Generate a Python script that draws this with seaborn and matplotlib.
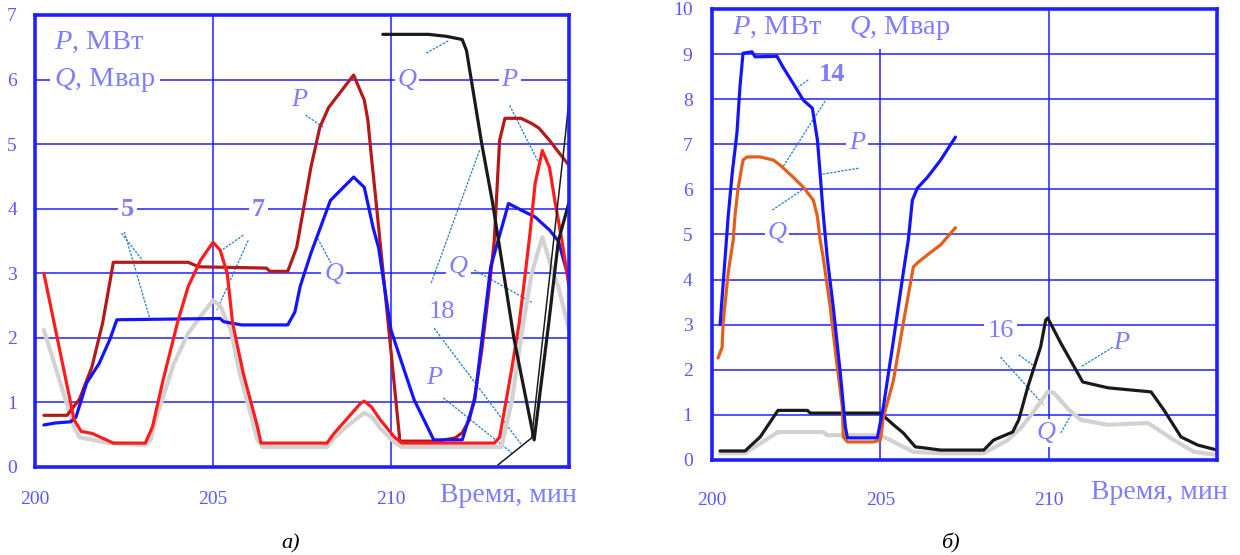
import matplotlib
matplotlib.use("Agg")
import matplotlib.pyplot as plt
import seaborn as sns

# ---- panel a) : time, min / P (MW), Q (Mvar) ----
a_p5_t = [200.25, 200.9, 201.25, 201.6, 201.9, 202.1, 202.2, 204.3, 204.6, 206.5, 206.6, 207.1,
          207.35, 207.75, 208.0, 208.25, 208.95, 209.25, 209.35, 209.45, 209.6, 210.25, 211.3,
          211.8, 212.0, 212.2, 212.35, 212.55, 212.75, 212.9, 213.05, 213.2, 213.65, 213.95,
          214.15, 214.45, 214.7, 215.0]
a_p5 = [0.8, 0.8, 1.05, 1.55, 2.23, 2.85, 3.17, 3.17, 3.1, 3.08, 3.03, 3.03,
        3.4, 4.64, 5.26, 5.57, 6.07, 5.68, 5.37, 4.8, 4.0, 0.4, 0.4,
        0.45, 0.53, 0.73, 1.08, 1.81, 2.74, 3.5, 5.06, 5.4, 5.4, 5.32,
        5.25, 5.06, 4.88, 4.67]

a_q5_t = [200.25, 200.55, 201.0, 201.15, 201.45, 201.8, 202.1, 202.3, 205.2, 205.3, 205.8, 207.1,
          207.3, 207.45, 207.75, 208.3, 208.95, 209.25, 209.5, 209.65, 210.0, 210.37, 210.65,
          211.2, 212.0, 212.35, 212.8, 213.3, 213.65, 214.05, 214.45, 214.7, 215.0]
a_q5 = [0.65, 0.68, 0.7, 0.77, 1.3, 1.6, 1.97, 2.28, 2.3, 2.25, 2.2, 2.2,
        2.4, 2.8, 3.31, 4.13, 4.49, 4.33, 3.7, 3.4, 2.12, 1.5, 1.04,
        0.42, 0.42, 1.04, 3.1, 4.08, 3.98, 3.87, 3.67, 3.5, 2.9]

a_p7_t = [200.25, 201.1, 201.3, 201.6, 202.0, 202.2, 203.1, 203.3, 203.6, 204.0, 204.3, 204.65,
          205.0, 205.2, 205.4, 205.55, 205.85, 206.25, 206.35, 208.2, 208.4, 208.8, 209.15,
          209.25, 209.45, 209.7, 210.1, 210.3, 212.9, 213.05, 213.25, 213.4, 213.6, 213.75,
          213.9, 214.05, 214.25, 214.45, 214.6, 214.8, 215.0]
a_p7 = [3.0, 0.73, 0.55, 0.52, 0.42, 0.37, 0.37, 0.62, 1.35, 2.23, 2.79, 3.2,
        3.48, 3.36, 3.0, 2.23, 1.45, 0.62, 0.37, 0.37, 0.52, 0.77, 0.99,
        1.02, 0.93, 0.73, 0.46, 0.37, 0.37, 0.46, 1.08, 1.55, 2.23, 2.9,
        3.6, 4.4, 4.9, 4.64, 4.13, 3.51, 2.79]

a_q7_t = [200.25, 201.1, 201.25, 202.1, 203.1, 203.25, 203.45, 203.9, 204.3, 204.65, 205.0,
          205.2, 205.5, 205.75, 206.05, 206.25, 206.4, 208.2, 208.4, 208.8, 209.25, 209.45,
          209.7, 210.1, 210.3, 213.1, 213.4, 213.67, 213.95, 214.25, 214.5, 214.7, 215.0]
a_q7 = [2.12, 0.62, 0.46, 0.37, 0.34, 0.42, 0.84, 1.6, 2.07, 2.33, 2.58,
        2.5, 2.12, 1.45, 0.84, 0.42, 0.31, 0.31, 0.45, 0.65, 0.84, 0.78,
        0.6, 0.38, 0.31, 0.31, 1.04, 2.07, 3.0, 3.56, 3.1, 2.79, 2.12]

a_q18_t = [209.77, 211.05, 211.55, 212.0, 212.12, 212.55, 212.85, 213.45, 214.02, 214.43, 214.7, 215.0]
a_q18 = [6.7, 6.7, 6.67, 6.62, 6.45, 5.0, 4.1, 2.0, 0.42, 2.23, 3.5, 4.1]

a_p18_t = [213.0, 213.95, 214.9, 215.0]
a_p18 = [0.03, 0.45, 5.15, 5.7]

# ---- panel б) ----
b_p14_t = [200.24, 200.39, 200.48, 200.6, 200.74, 200.83, 200.92, 201.19, 201.28, 201.93, 202.11,
           202.41, 202.71, 202.98, 203.13, 203.21, 203.3, 203.42, 203.6, 203.81, 203.96, 204.02,
           204.91, 205.09, 205.39, 205.68, 205.83, 205.95, 206.1, 206.4, 206.79, 207.23]
b_p14 = [3.0, 4.5, 5.4, 6.36, 7.25, 8.27, 9.02, 9.05, 8.94, 8.95, 8.71,
         8.35, 7.98, 7.8, 7.1, 6.36, 5.48, 4.5, 3.4, 1.93, 0.74, 0.49,
         0.49, 1.18, 2.66, 4.15, 4.88, 5.76, 6.03, 6.27, 6.65, 7.16]

b_q14_t = [200.18, 200.3, 200.33, 200.48, 200.63, 200.68, 200.77, 200.92, 201.04, 201.43, 201.82,
           202.02, 202.41, 202.71, 203.01, 203.13, 203.21, 203.3, 203.51, 203.72, 203.87, 203.9,
           204.02, 204.79, 205.0, 205.09, 205.39, 205.68, 205.98, 206.1, 206.4, 206.79, 207.23]
b_q14 = [2.26, 2.5, 3.03, 4.15, 4.88, 5.4, 6.0, 6.65, 6.72, 6.72, 6.65,
         6.54, 6.27, 6.05, 5.76, 5.4, 4.88, 4.5, 3.4, 2.06, 1.18, 0.51,
         0.4, 0.4, 0.44, 0.95, 1.77, 3.03, 4.28, 4.37, 4.55, 4.77, 5.15]

b_p16_t = [200.24, 200.98, 201.43, 201.96, 202.83, 202.92, 205.0, 205.39, 205.68, 206.04, 206.28,
           206.79, 208.07, 208.36, 208.93, 209.11, 209.38, 209.76, 209.91, 209.97, 210.36, 210.86,
           211.01, 211.76, 213.04, 213.42, 213.93, 214.43, 215.0]
b_p16 = [0.2, 0.2, 0.51, 1.1, 1.1, 1.04, 1.04, 0.78, 0.6, 0.29, 0.27,
         0.22, 0.22, 0.44, 0.62, 0.89, 1.62, 2.51, 3.1, 3.15, 2.59, 1.93,
         1.73, 1.6, 1.51, 1.11, 0.51, 0.33, 0.22]

b_q16_t = [200.24, 200.98, 201.96, 203.3, 203.42, 205.0, 205.98, 206.79, 208.07, 208.78, 209.17,
           209.52, 209.97, 210.15, 210.6, 210.95, 211.76, 212.95, 213.72, 214.32, 215.0]
b_q16 = [0.15, 0.15, 0.62, 0.62, 0.55, 0.55, 0.18, 0.15, 0.15, 0.44, 0.71,
         1.04, 1.51, 1.49, 1.11, 0.89, 0.78, 0.82, 0.44, 0.18, 0.11]

x_ticks = [200, 205, 210]
a_y_ticks = list(range(0, 8))
b_y_ticks = list(range(0, 11))

sns.set_style("white")
plt.rcParams['font.family'] = ['Liberation Serif', 'DejaVu Serif']
plt.rcParams['mathtext.fontset'] = 'custom'
plt.rcParams['mathtext.it'] = 'Liberation Serif:italic'
plt.rcParams['mathtext.rm'] = 'Liberation Serif'

GRID = '#1f1fff'
TXT = '#7f7cff'
TICK = '#5a5af5'
LEAD = '#2a7fc4'

fig = plt.figure(figsize=(12.4, 5.55), dpi=100)
ax_a = fig.add_axes([0.0282, 0.1586, 0.4307, 0.8144])
ax_b = fig.add_axes([0.5742, 0.1712, 0.4073, 0.8126])


def style_axes(ax, yticks, ymax, ypad, xpad):
    ax.set_xlim(200, 215)
    ax.set_ylim(0, ymax)
    ax.set_xticks(x_ticks)
    ax.set_yticks(yticks)
    ax.set_axisbelow(True)
    ax.grid(True, color=GRID, linewidth=1.1)
    for s in ax.spines.values():
        s.set_visible(True)
        s.set_color(GRID)
        s.set_linewidth(2.6)
    ax.tick_params(axis='both', length=0, labelsize=14, labelcolor=TICK)
    ax.tick_params(axis='y', pad=ypad)
    ax.tick_params(axis='x', pad=xpad)
    ax.set_xlabel('Время, мин', fontsize=20, color=TXT)
    ax.set_ylabel('')


def draw(ax, t, v, color, lw):
    sns.lineplot(x=t, y=v, ax=ax, color=color, linewidth=lw, estimator=None, sort=False)


def label(ax, x, y, s, italic=False, bold=False, size=19):
    ax.text(x, y, s, fontsize=size, color=TXT, ha='center', va='center',
            fontstyle='italic' if italic else 'normal',
            fontweight='bold' if bold else 'normal', zorder=1.5,
            bbox=dict(facecolor='white', edgecolor='none', pad=2))


def lead(ax, x0, y0, x1, y1, color=LEAD):
    ax.plot([x0, x1], [y0, y1], color=color, linewidth=0.9, linestyle=(0, (2, 1)), zorder=1.8)


# panel a
draw(ax_a, a_q7_t, a_q7, '#d2d2d2', 3.0)
draw(ax_a, a_p5_t, a_p5, '#b51a1a', 2.3)
draw(ax_a, a_q5_t, a_q5, '#1414ff', 2.3)
draw(ax_a, a_p7_t, a_p7, '#ff1c1c', 2.3)
draw(ax_a, a_p18_t, a_p18, '#1a1a1a', 1.1)
draw(ax_a, a_q18_t, a_q18, '#1a1a1a', 2.3)
style_axes(ax_a, a_y_ticks, 7, 13, 17)
ax_a.xaxis.set_label_coords(0.886, -0.035)

ax_a.text(200.54, 6.58, '$P$, МВт', fontsize=20.5, color=TXT, ha='left', va='center', zorder=1.5)
ax_a.text(200.54, 5.99, '$Q$, Мвар', fontsize=20.5, color=TXT, ha='left', va='center', zorder=1.5,
          bbox=dict(facecolor='white', edgecolor='none', pad=3))
label(ax_a, 202.6, 3.98, '5', bold=True)
label(ax_a, 206.27, 3.98, '7', bold=True)
lead(ax_a, 202.43, 3.62, 203.02, 3.2)
lead(ax_a, 202.51, 3.64, 203.22, 2.31)
lead(ax_a, 205.85, 3.59, 205.25, 3.36)
lead(ax_a, 205.99, 3.51, 205.11, 2.43)
label(ax_a, 207.43, 5.68, 'P', italic=True)
lead(ax_a, 207.6, 5.45, 208.1, 5.26)
label(ax_a, 210.45, 6.0, 'Q', italic=True)
lead(ax_a, 210.99, 6.41, 211.64, 6.61)
label(ax_a, 213.33, 5.99, 'P', italic=True)
lead(ax_a, 213.33, 5.6, 214.15, 4.71)
label(ax_a, 208.39, 2.99, 'Q', italic=True)
lead(ax_a, 207.94, 3.54, 208.31, 3.16)
label(ax_a, 211.89, 3.1, 'Q', italic=True)
lead(ax_a, 212.34, 3.05, 213.95, 2.55)
lead(ax_a, 211.13, 2.85, 212.49, 4.91)
label(ax_a, 211.44, 2.4, '18')
lead(ax_a, 211.21, 2.15, 213.67, 0.34)
label(ax_a, 211.21, 1.38, 'P', italic=True)
lead(ax_a, 211.47, 1.07, 213.39, 0.22)

# panel b
draw(ax_b, b_q16_t, b_q16, '#d2d2d2', 3.0)
draw(ax_b, b_p16_t, b_p16, '#1a1a1a', 2.3)
draw(ax_b, b_q14_t, b_q14, '#e0601c', 2.3)
draw(ax_b, b_p14_t, b_p14, '#1414ff', 2.3)
style_axes(ax_b, b_y_ticks, 10, 14, 23)
ax_b.xaxis.set_label_coords(0.885, -0.044)

ax_b.text(200.6, 9.58, '$P$, МВт    $Q$, Мвар', fontsize=20.5, color=TXT, ha='left', va='center',
          zorder=1.5, bbox=dict(facecolor='white', edgecolor='none', pad=5))
label(ax_b, 203.57, 8.54, '14', bold=True)
lead(ax_b, 202.86, 8.43, 202.56, 8.27)
lead(ax_b, 203.42, 8.03, 202.08, 6.47)
label(ax_b, 204.32, 7.03, 'P', italic=True)
lead(ax_b, 204.35, 6.47, 203.15, 6.32)
label(ax_b, 201.93, 5.03, 'Q', italic=True)
lead(ax_b, 201.79, 5.54, 202.68, 5.99)
label(ax_b, 208.57, 2.85, '16')
lead(ax_b, 208.57, 2.28, 209.85, 1.22)
lead(ax_b, 209.11, 2.33, 209.52, 2.11)
label(ax_b, 212.14, 2.59, 'P', italic=True)
lead(ax_b, 211.9, 2.5, 210.95, 2.06)
label(ax_b, 209.91, 0.6, 'Q', italic=True)
lead(ax_b, 210.36, 0.6, 210.71, 1.06)

fig.text(0.234, 0.02, 'а)', fontsize=16, fontstyle='italic', color='black', ha='center', va='center')
fig.text(0.766, 0.02, 'б)', fontsize=16, fontstyle='italic', color='black', ha='center', va='center')

fig.savefig('out.png', dpi=100)
